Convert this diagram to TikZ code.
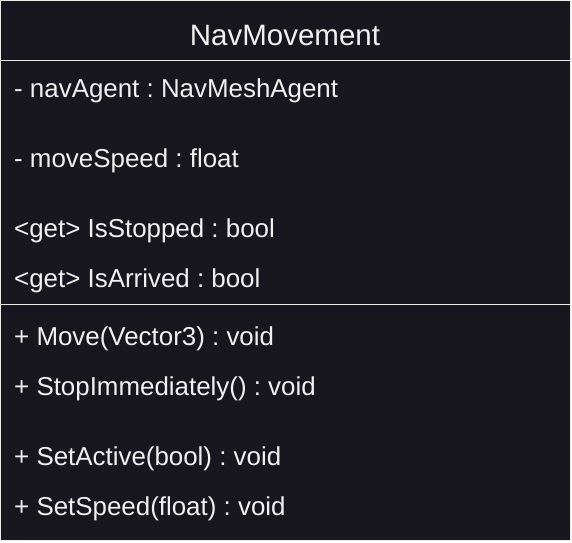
\documentclass[tikz,border=0pt]{standalone}
\usepackage{fontspec}
\setmainfont{Liberation Sans}
\usetikzlibrary{positioning}
\definecolor{boxbg}{RGB}{24,22,30}
\definecolor{boxtxt}{RGB}{240,240,240}
\definecolor{boxline}{RGB}{235,235,235}
\frenchspacing

\begin{document}
\begin{tikzpicture}[
        x=1pt, y=-1pt,
        member/.style={anchor=base west, inner sep=0pt, text=boxtxt,
            font=\fontsize{25.9}{28}\selectfont},
        title/.style={anchor=base, inner sep=0pt, text=boxtxt,
            font=\fontsize{29.5}{32}\selectfont}]

    \useasboundingbox (0,0) rectangle (572,542);
    \draw[boxline, fill=boxbg, line width=1pt] (0.5,0.5) rectangle (570.5,540.5);

    \node[title] (name) at (285,45) {NavMovement};
    \draw[boxline, line width=1pt] (0.5,60) -- (570.5,60);

    \node[member] (navagent) at (14,97) {- navAgent : NavMeshAgent};
    \node[member] (speed) at (14,167) {- moveSpeed : float};
    \node[member] (stopped) at (14,237) {<get> IsStopped : bool};
    \node[member] (arrived) at (14,287) {<get> IsArrived : bool};
    \draw[boxline, line width=1pt] (0.5,304) -- (570.5,304);

    \node[member] (move) at (14,345) {+ Move(Vector3) : void};
    \node[member] (stop) at (14,395) {+ StopImmediately() : void};
    \node[member] (active) at (14,465) {+ SetActive(bool) : void};
    \node[member] (setspeed) at (14,515) {+ SetSpeed(float) : void};

\end{tikzpicture}
\end{document}
